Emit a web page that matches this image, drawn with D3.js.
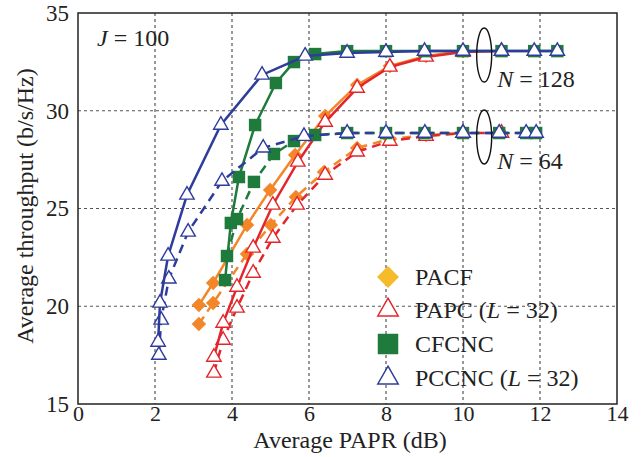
<!DOCTYPE html>
<html>
<head>
<meta charset="utf-8">
<script src="https://cdn.jsdelivr.net/npm/d3@7"></script>
<style>
  body { margin: 0; background: #fff; }
  text { font-family: "Liberation Serif", "Times New Roman", serif; fill: #222; }
</style>
</head>
<body>
<div id="chart"></div>
<script>
// tick labels
var xTicks = [0, 2, 4, 6, 8, 10, 12, 14];
var yTicks = [15, 20, 25, 30, 35];

// PACF
var pacfX128 = [3.14, 3.51, 4.39, 4.99, 5.64, 6.42, 7.25, 8.1, 9.04, 10.0];
var pacfY128 = [20.06, 21.19, 24.16, 25.95, 27.74, 29.73, 31.32, 32.29, 32.8, 33.05];
var pacfX64 = [3.14, 3.51, 4.39, 5.01, 5.66, 6.39, 7.25, 8.1, 9.04, 10.0];
var pacfY64 = [19.09, 20.17, 22.67, 24.16, 25.59, 26.87, 28.1, 28.55, 28.76, 28.86];

// PAPC (L = 32)
var papcX128 = [3.53, 3.77, 4.13, 4.55, 5.06, 5.71, 6.42, 7.25, 8.1, 9.04, 10.0, 11.0];
var papcY128 = [17.4, 19.14, 20.98, 22.98, 25.18, 27.38, 29.42, 31.16, 32.24, 32.75, 33.0, 33.05];
var papcX64 = [3.53, 3.77, 4.13, 4.55, 5.06, 5.69, 6.42, 7.25, 8.1, 9.04, 10.0, 11.0];
var papcY64 = [16.59, 18.27, 19.91, 21.7, 23.49, 25.18, 26.71, 27.9, 28.45, 28.7, 28.86, 28.86];

// CFCNC
var cfcncX128 = [3.82, 3.97, 4.18, 4.6, 5.14, 5.61, 6.16, 6.99, 8.0, 9.0, 10.0, 11.0, 11.85, 12.45];
var cfcncY128 = [21.34, 24.26, 26.61, 29.27, 31.42, 32.49, 32.9, 33.05, 33.05, 33.05, 33.05, 33.05, 33.05, 33.05];
var cfcncX64 = [3.87, 4.13, 4.57, 5.09, 5.61, 6.16, 6.99, 8.0, 9.0, 10.0, 10.94, 11.64, 11.9];
var cfcncY64 = [22.57, 24.46, 26.36, 27.79, 28.45, 28.76, 28.86, 28.86, 28.86, 28.86, 28.86, 28.86, 28.86];

// PCCNC (L = 32)
var pccncX128 = [2.08, 2.13, 2.34, 2.83, 3.71, 4.78, 5.9, 6.99, 8.0, 9.0, 10.0, 11.0, 11.85, 12.45];
var pccncY128 = [18.17, 20.17, 22.57, 25.69, 29.27, 31.83, 32.8, 32.95, 33.0, 33.05, 33.05, 33.05, 33.05, 33.05];
var pccncX64 = [2.1, 2.16, 2.36, 2.86, 3.74, 4.81, 5.87, 6.99, 8.0, 9.01, 10.0, 10.94, 11.64, 11.9];
var pccncY64 = [17.5, 19.3, 21.4, 23.8, 26.4, 28.1, 28.7, 28.86, 28.86, 28.86, 28.86, 28.86, 28.86, 28.86];

var W = 644, H = 457;
var pLeft = 78, pRight = 617, pTop = 13, pBottom = 404;

var x = d3.scaleLinear().domain([0, 14]).range([pLeft, pRight]);
var y = d3.scaleLinear().domain([15, 35]).range([pBottom, pTop]);

var svg = d3.select("#chart").append("svg")
  .attr("width", W)
  .attr("height", H)
  .style("background-color", "#fff");

// dotted grid
svg.append("g").selectAll("line")
  .data(xTicks.filter(function(d) { return d > 0 && d < 14; }))
  .enter().append("line")
  .attr("x1", function(d) { return x(d); })
  .attr("x2", function(d) { return x(d); })
  .attr("y1", pTop).attr("y2", pBottom)
  .attr("stroke", "#555").attr("stroke-width", 1.2)
  .attr("stroke-dasharray", "3,3");
svg.append("g").selectAll("line")
  .data(yTicks.filter(function(d) { return d > 15 && d < 35; }))
  .enter().append("line")
  .attr("y1", function(d) { return y(d); })
  .attr("y2", function(d) { return y(d); })
  .attr("x1", pLeft).attr("x2", pRight)
  .attr("stroke", "#555").attr("stroke-width", 1.2)
  .attr("stroke-dasharray", "3,3");

// axes (labels only)
var xAxis = svg.append("g")
  .attr("transform", "translate(0," + pBottom + ")")
  .call(d3.axisBottom(x).tickValues(xTicks).tickSize(0).tickPadding(1).tickFormat(d3.format("d")));
var yAxis = svg.append("g")
  .attr("transform", "translate(" + pLeft + ",0)")
  .call(d3.axisLeft(y).tickValues(yTicks).tickSize(0).tickPadding(9).tickFormat(d3.format("d")));
[xAxis, yAxis].forEach(function(a) {
  a.select(".domain").remove();
  a.selectAll("text").style("font-family", "'Liberation Serif', serif").style("font-size", "23px").attr("fill", "#222");
});
xAxis.selectAll("text").style("font-size", "22px");

// frame
svg.append("rect")
  .attr("x", pLeft).attr("y", pTop)
  .attr("width", pRight - pLeft).attr("height", pBottom - pTop)
  .attr("fill", "none").attr("stroke", "#222").attr("stroke-width", 1.5);

var colors = { pacf: "#f4862a", papc: "#e3262b", cfcnc: "#1f7b3c", pccnc: "#2e3d9c" };

function zip(xs, ys) {
  return xs.map(function(v, i) { return [v, ys[i]]; });
}

var line = d3.line()
  .x(function(d) { return x(d[0]); })
  .y(function(d) { return y(d[1]); });

var triangle = d3.symbol().type(d3.symbolTriangle).size(90);
var square = d3.symbol().type(d3.symbolSquare).size(155);
var diamond = d3.symbol().type(d3.symbolSquare).size(105);

function drawSeries(pts, color, dashed, kind) {
  svg.append("path")
    .datum(pts)
    .attr("d", line)
    .attr("fill", "none")
    .attr("stroke", color)
    .attr("stroke-width", 2.5)
    .attr("stroke-dasharray", dashed ? "9,6" : null);

  var m = svg.append("g").selectAll("path")
    .data(pts)
    .enter().append("path")
    .attr("transform", function(d) {
      return "translate(" + x(d[0]) + "," + y(d[1]) + ")" + (kind == "diamond" ? " rotate(45)" : "");
    });
  if (kind == "triangle") {
    m.attr("d", triangle).attr("fill", "#fff").attr("stroke", color).attr("stroke-width", 1.4);
  } else if (kind == "square") {
    m.attr("d", square).attr("fill", color);
  } else {
    m.attr("d", diamond).attr("fill", color);
  }
}

drawSeries(zip(pacfX64, pacfY64), colors.pacf, true, "diamond");
drawSeries(zip(pacfX128, pacfY128), colors.pacf, false, "diamond");
drawSeries(zip(papcX64, papcY64), colors.papc, true, "triangle");
drawSeries(zip(papcX128, papcY128), colors.papc, false, "triangle");
drawSeries(zip(cfcncX64, cfcncY64), colors.cfcnc, true, "square");
drawSeries(zip(cfcncX128, cfcncY128), colors.cfcnc, false, "square");
drawSeries(zip(pccncX64, pccncY64), colors.pccnc, true, "triangle");
drawSeries(zip(pccncX128, pccncY128), colors.pccnc, false, "triangle");

// N ellipses and labels
var ellX = 10.55;
[[32.85, "128"], [28.66, "64"]].forEach(function(e) {
  svg.append("ellipse")
    .attr("cx", x(ellX)).attr("cy", y(e[0]))
    .attr("rx", 7.5).attr("ry", 27)
    .attr("fill", "none").attr("stroke", "#111").attr("stroke-width", 1.4);
  var t = svg.append("text")
    .attr("x", x(ellX) + 13).attr("y", y(e[0]) + 32)
    .style("font-size", "24px");
  t.append("tspan").style("font-style", "italic").text("N");
  t.append("tspan").text(" = " + e[1]);
});

var jt = svg.append("text").attr("x", 97).attr("y", 46).style("font-size", "24px");
jt.append("tspan").style("font-style", "italic").text("J");
jt.append("tspan").text(" = 100");

// axis titles
svg.append("text")
  .attr("x", 350).attr("y", 448)
  .attr("text-anchor", "middle")
  .style("font-size", "24px")
  .text("Average PAPR (dB)");
svg.append("text")
  .attr("transform", "translate(33,206) rotate(-90)")
  .attr("text-anchor", "middle")
  .style("font-size", "24px")
  .text("Average throughput (b/s/Hz)");

// legend
var legend = [
  { name: "PACF", italic: null, kind: "diamond", color: "#f6bb2a", cy: 277 },
  { name: "PAPC (", italic: "L", rest: " = 32)", kind: "triangle", color: colors.papc, cy: 310 },
  { name: "CFCNC", italic: null, kind: "square", color: colors.cfcnc, cy: 344 },
  { name: "PCCNC (", italic: "L", rest: " = 32)", kind: "triangle", color: colors.pccnc, cy: 378 }
];
var lg = svg.append("g").selectAll("g").data(legend).enter().append("g")
  .attr("transform", function(d) { return "translate(388," + d.cy + ")"; });
lg.append("path")
  .attr("d", function(d) {
    if (d.kind == "triangle") return d3.symbol().type(d3.symbolTriangle).size(180)();
    if (d.kind == "square") return d3.symbol().type(d3.symbolSquare).size(420)();
    return d3.symbol().type(d3.symbolSquare).size(240)();
  })
  .attr("transform", function(d) { return d.kind == "diamond" ? "rotate(45)" : null; })
  .attr("fill", function(d) { return d.kind == "triangle" ? "#fff" : d.color; })
  .attr("stroke", function(d) { return d.kind == "triangle" ? d.color : "none"; })
  .attr("stroke-width", 1.5);
lg.each(function(d) {
  var t = d3.select(this).append("text").attr("x", 27).attr("y", 8).style("font-size", "24px");
  t.append("tspan").text(d.name);
  if (d.italic) {
    t.append("tspan").style("font-style", "italic").text(d.italic);
    t.append("tspan").text(d.rest);
  }
});
</script>
</body>
</html>
